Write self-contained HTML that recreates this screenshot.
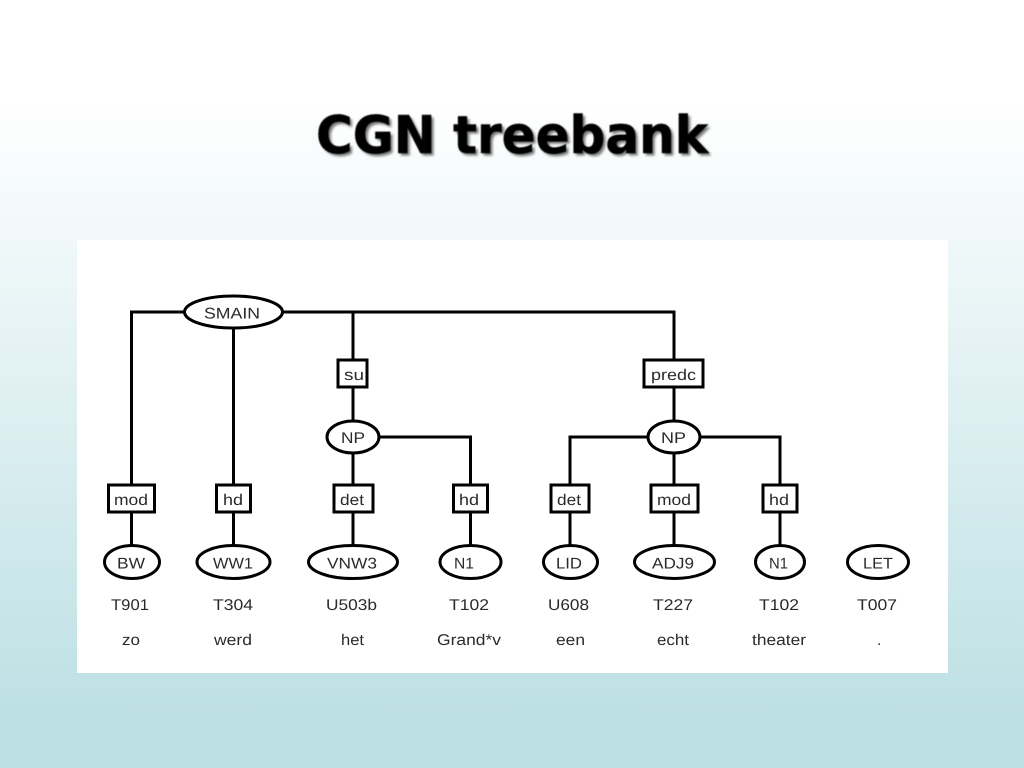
<!DOCTYPE html>
<html lang="nl">
<head>
<meta charset="utf-8">
<title>CGN treebank</title>
<style>
html,body{margin:0;padding:0;width:1024px;height:768px;overflow:hidden}
body{background:linear-gradient(to bottom,#fff 0,#fff 100px,#bde0e4 715px,#bde0e4 768px)}
svg{position:absolute;left:0;top:0;display:block}
.title{font-family:"DejaVu Sans",sans-serif;font-weight:700;font-size:52px;text-rendering:geometricPrecision}
.l{font-family:"Liberation Sans",sans-serif;font-size:15.5px;fill:#2a2a2a;text-rendering:geometricPrecision}
.s{stroke:#000;stroke-width:3;fill:none}
.n{stroke:#000;stroke-width:3;fill:#fff}
</style>
</head>
<body>
<svg width="1024" height="768" viewBox="0 0 1024 768" xmlns="http://www.w3.org/2000/svg">
<text class="title" x="318.500" y="155.500" fill="#777" textLength="392" lengthAdjust="spacingAndGlyphs" style="filter:blur(1.2px)">CGN treebank</text>
<text class="title" x="316" y="153" fill="#000" stroke="#000" stroke-width=".6" textLength="392" lengthAdjust="spacingAndGlyphs" style="filter:blur(.4px)">CGN treebank</text>
<rect x="77" y="240" width="871" height="433" fill="#fff"/>
<g style="filter:blur(.3px)">
<g class="s">
<path d="M184 312H131.500V485M131.500 512V545"/>
<path d="M233.500 328V485M233.500 512V545"/>
<path d="M283 312H674V359M353 312V359M353 387V421M353 453V485M353 512V545"/>
<path d="M379 437H470.500V485M470.500 512V545"/>
<path d="M674 387V421M648 437H570V485M570 512V545"/>
<path d="M700 437H780V485M780 512V545"/>
<path d="M674 453V485M674 512V545"/>
</g>
<g class="n">
<ellipse cx="233.500" cy="312" rx="49" ry="16"/>
<rect x="338" y="360" width="29" height="27"/>
<rect x="644" y="360" width="59" height="27"/>
<ellipse cx="353" cy="437" rx="26" ry="16"/>
<ellipse cx="674" cy="437" rx="26" ry="16"/>
<rect x="108.500" y="485" width="46" height="27"/>
<rect x="216.500" y="485" width="34" height="27"/>
<rect x="334" y="485" width="39" height="27"/>
<rect x="453.500" y="485" width="34" height="27"/>
<rect x="551" y="485" width="38" height="27"/>
<rect x="651" y="485" width="47" height="27"/>
<rect x="763" y="485" width="34" height="27"/>
<ellipse cx="132" cy="562" rx="27.500" ry="16.500"/>
<ellipse cx="233.500" cy="562" rx="36.500" ry="16.500"/>
<ellipse cx="353" cy="562" rx="44.500" ry="16.500"/>
<ellipse cx="470.500" cy="562" rx="30.500" ry="16.500"/>
<ellipse cx="570.500" cy="562" rx="27" ry="16.500"/>
<ellipse cx="674.500" cy="562" rx="40" ry="16.500"/>
<ellipse cx="780" cy="562" rx="24.500" ry="16.500"/>
<ellipse cx="878" cy="562" rx="30.500" ry="16.500"/>
</g>
<g class="l">
<text x="204" y="318.500" textLength="56" lengthAdjust="spacingAndGlyphs">SMAIN</text>
<text x="344" y="380" textLength="20" lengthAdjust="spacingAndGlyphs">su</text>
<text x="651" y="380" textLength="45" lengthAdjust="spacingAndGlyphs">predc</text>
<text x="341" y="443" textLength="24" lengthAdjust="spacingAndGlyphs">NP</text>
<text x="661" y="443" textLength="25" lengthAdjust="spacingAndGlyphs">NP</text>
<text x="114" y="505" textLength="34" lengthAdjust="spacingAndGlyphs">mod</text>
<text x="223" y="505" textLength="20" lengthAdjust="spacingAndGlyphs">hd</text>
<text x="340" y="505" textLength="24" lengthAdjust="spacingAndGlyphs">det</text>
<text x="459" y="505" textLength="20" lengthAdjust="spacingAndGlyphs">hd</text>
<text x="557" y="505" textLength="24" lengthAdjust="spacingAndGlyphs">det</text>
<text x="657" y="505" textLength="34" lengthAdjust="spacingAndGlyphs">mod</text>
<text x="769" y="505" textLength="20" lengthAdjust="spacingAndGlyphs">hd</text>
<text x="117" y="568.500" textLength="28" lengthAdjust="spacingAndGlyphs">BW</text>
<text x="213" y="568.500" textLength="40" lengthAdjust="spacingAndGlyphs">WW1</text>
<text x="327" y="568.500" textLength="50" lengthAdjust="spacingAndGlyphs">VNW3</text>
<text x="454" y="568.500" textLength="20" lengthAdjust="spacingAndGlyphs">N1</text>
<text x="556" y="568.500" textLength="26" lengthAdjust="spacingAndGlyphs">LID</text>
<text x="652" y="568.500" textLength="42" lengthAdjust="spacingAndGlyphs">ADJ9</text>
<text x="769" y="568.500" textLength="19" lengthAdjust="spacingAndGlyphs">N1</text>
<text x="863" y="568.500" textLength="30" lengthAdjust="spacingAndGlyphs">LET</text>
<text x="111" y="610" textLength="38" lengthAdjust="spacingAndGlyphs">T901</text>
<text x="213" y="610" textLength="40" lengthAdjust="spacingAndGlyphs">T304</text>
<text x="326" y="610" textLength="51" lengthAdjust="spacingAndGlyphs">U503b</text>
<text x="449" y="610" textLength="40" lengthAdjust="spacingAndGlyphs">T102</text>
<text x="548" y="610" textLength="41" lengthAdjust="spacingAndGlyphs">U608</text>
<text x="653" y="610" textLength="40" lengthAdjust="spacingAndGlyphs">T227</text>
<text x="759" y="610" textLength="40" lengthAdjust="spacingAndGlyphs">T102</text>
<text x="857" y="610" textLength="40" lengthAdjust="spacingAndGlyphs">T007</text>
<text x="122" y="645" textLength="18" lengthAdjust="spacingAndGlyphs">zo</text>
<text x="214" y="645" textLength="38" lengthAdjust="spacingAndGlyphs">werd</text>
<text x="341" y="645" textLength="23" lengthAdjust="spacingAndGlyphs">het</text>
<text x="437" y="645" textLength="64" lengthAdjust="spacingAndGlyphs">Grand*v</text>
<text x="556" y="645" textLength="29" lengthAdjust="spacingAndGlyphs">een</text>
<text x="657" y="645" textLength="32" lengthAdjust="spacingAndGlyphs">echt</text>
<text x="752" y="645" textLength="54" lengthAdjust="spacingAndGlyphs">theater</text>
<text x="877" y="645">.</text>
</g>
</g>
</svg>
</body>
</html>
